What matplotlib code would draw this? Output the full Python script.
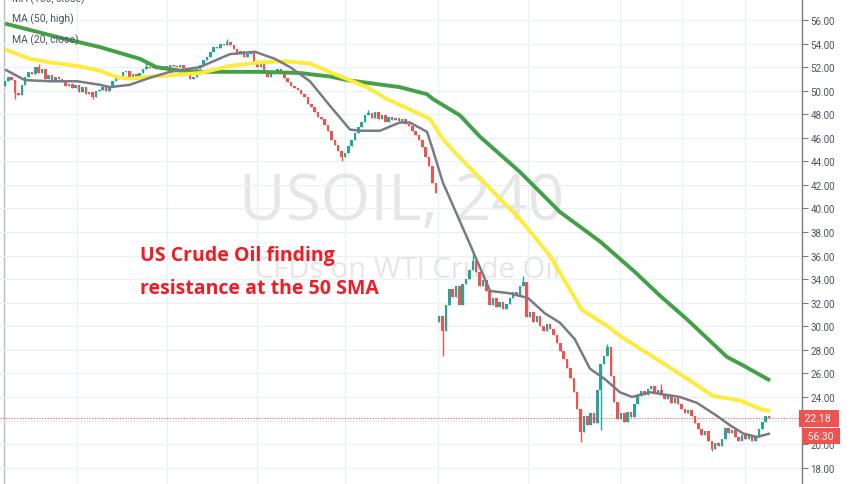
import numpy as np
import matplotlib.pyplot as plt
import matplotlib.transforms as mtransforms

plt.rcParams['font.family'] = ['Roboto', 'DejaVu Sans']

# ---- candle closes (240 min bars) ----
closes = [
    50.8, 51.2, 50.9, 49.8, 49.6, 50.5, 51.2,
    51.6, 51.4, 52.0, 51.5, 51.8,
    51.0, 51.3, 50.9, 51.2, 51.0,
    50.7, 50.4, 50.6, 50.2, 50.5,
    49.9, 50.3, 49.7, 49.9, 49.5, 50.0,
    50.1, 50.3, 50.0, 50.4,
    50.8, 51.2, 51.0, 51.6, 51.7,
    51.2, 51.4, 51.0, 51.5,
    51.8, 52.0, 51.9, 52.1, 51.8, 52.0, 52.1, 51.9, 52.2,
    52.1, 52.0, 52.2, 51.9,
    51.4, 51.0, 51.2,
    51.8, 52.2, 52.6, 52.9,
    53.3, 53.7, 53.6,
    54.0, 53.9, 54.1, 53.9,
    53.5, 53.1, 53.4, 52.9,
    53.1, 53.4,
    52.4, 52.0, 52.3,
    51.6, 51.2, 51.4,
    51.6, 51.8, 51.7,
    51.1, 50.7,
    50.4, 50.2, 50.1,
    49.7, 49.5,
    48.9, 48.6,
    48.2, 47.8, 47.6,
    47.1, 46.6, 45.8, 45.4,
    44.9, 44.4, 44.7,
    45.3, 45.8, 46.4,
    46.9, 47.3,
    47.9, 48.1, 47.7, 48.2,
    47.6, 47.9, 47.3, 47.8, 47.5, 47.7,
    47.4, 47.6, 47.2, 47.0,
    46.6, 46.2, 45.8,
    45.2, 44.4, 43.6,
    42.2, 41.3,
    30.9, 29.6,
    31.8, 33.2,
    32.5, 33.4, 31.8, 33.6,
    34.0, 34.8, 35.5, 34.6, 33.4, 33.9, 33.0,
    31.8, 32.4, 31.6, 32.1, 31.5, 31.9,
    32.4, 32.9, 32.6, 33.4, 33.8, 30.8,
    31.2, 30.4, 30.9, 30.0,
    29.6, 30.2, 29.8, 29.3,
    28.6, 27.9, 27.2, 26.5,
    25.6, 24.4,
    23.0, 21.0,
    22.4, 21.6, 22.6, 21.8,
    24.6, 26.8, 27.5,
    28.2,
    25.8, 23.6,
    22.1, 22.6, 21.9, 22.7, 22.3,
    23.4, 24.1, 24.5, 24.2, 24.7,
    24.9, 24.3, 24.6, 24.2,
    23.8, 24.2, 23.5, 23.9, 23.4,
    23.0, 22.6, 22.9, 22.4, 21.8,
    21.3, 20.8, 21.1,
    20.3, 19.6, 20.1, 19.8, 20.4,
    21.4, 20.9, 21.2,
    20.6, 20.3, 20.8, 20.4, 20.7, 20.3, 20.6,
    21.3, 21.9, 22.4, 22.18,
]
first_open = 50.4
open_override = {129: 30.4}          # weekend gap
high_marks = {10: 52.3, 42: 52.4, 66: 54.4, 108: 48.4, 139: 36.1, 154: 34.3, 179: 28.5, 195: 25.1}
low_marks = {3: 49.3, 26: 49.3, 100: 44.0, 130: 27.5, 171: 20.2, 177: 21.2, 210: 19.4}

# ---- moving averages (bar index, value) ----
ma100_idx = [0, 16.3, 28.2, 40.1, 44.9, 52, 58, 75.8, 87.6, 96.6, 101.6, 117.3, 125.4, 127.1,
             135.2, 141.1, 153, 164.9, 176.8, 187.2, 194.6, 202.6, 214.5, 219.8, 227.3]
ma100_val = [55.7, 54.5, 53.7, 52.7, 52.0, 51.7, 51.6, 51.6, 51.5, 51.2, 50.9, 50.3, 49.7, 49.3,
             47.9, 46.1, 43.1, 39.7, 37.2, 34.6, 32.6, 30.6, 27.4, 26.6, 25.4]
ma50_idx = [0, 7.4, 13.4, 21.4, 28.2, 32.7, 37.1, 43.1, 49, 57.9, 66.8, 75.8, 83.2, 90.6, 98,
            101.6, 107.5, 113.5, 126.3, 130.1, 135.2, 144.1, 153, 161.9, 171.4, 179.1, 182.7,
            188.7, 201.4, 210.3, 218.4, 224.3, 227.3]
ma50_val = [53.5, 52.7, 52.4, 52.1, 51.7, 51.2, 51.0, 51.2, 51.3, 51.5, 52.1, 52.4, 52.5, 52.3, 51.4,
            51.0, 50.3, 49.3, 47.6, 45.9, 44.3, 41.7, 39.1, 36.0, 31.4, 30.0, 29.2,
            28.1, 25.8, 24.1, 23.7, 23.0, 22.8]
ma20_idx = [0, 5.9, 13.4, 21.4, 28.2, 31.2, 37.1, 43.1, 49, 57.9, 66.8, 74.3, 80.2, 84.7, 90.6,
            96.6, 102.5, 105.5, 111.4, 117.3, 120.3, 125.4, 127.1, 130.1, 138.1, 141.1, 144.1,
            150, 155.4, 160.4, 164.9, 169.3, 173.8, 178.3, 182.7, 186.3, 191.6, 200.5, 205.6,
            211.5, 215.4, 219.3, 223.4, 227.3]
ma20_val = [51.8, 50.9, 50.8, 50.8, 50.5, 50.3, 50.5, 51.1, 51.6, 52.0, 53.1, 53.3, 52.7, 52.0, 50.8,
            48.7, 46.7, 46.6, 46.6, 47.3, 47.3, 46.5, 45.0, 42.2, 37.0, 35.0, 33.0,
            32.8, 32.4, 31.1, 30.3, 28.9, 26.4, 25.5, 24.4, 24.0, 24.4, 24.0, 23.5,
            22.4, 21.6, 20.9, 20.6, 20.9]

price_ticks = np.arange(18, 58, 2)
week_lines = [21.4, 48.1, 74.9, 101, 128.6, 155.4, 182.7, 201.1, 219.8]
last_price = 22.18

up_col = '#26a69a'
dn_col = '#ef5350'

# ---- layout: axes covers px 0..802 horizontally, full height ----
W, H = 852, 485
n = len(closes)
dx = 764 / (n - 1)          # pixels per bar
fig = plt.figure(figsize=(W / 100, H / 100), dpi=100)
ax = fig.add_axes([0, 0, 802 / W, 1])
ax.set_xlim(-5 / dx, 797 / dx)
ax.set_ylim(56 - 464 / 11.78, 56 + 21 / 11.78)

opens = [first_open] + closes[:-1]
for k, v in open_override.items():
    opens[k] = v

x = np.arange(n)
o = np.array(opens)
c = np.array(closes)
cols = [up_col if cc >= oo else dn_col for oo, cc in zip(o, c)]
hi = np.maximum(o, c)
lo = np.minimum(o, c)
for k, v in high_marks.items():
    hi[k] = v
for k, v in low_marks.items():
    lo[k] = v

ax.vlines(x, lo, hi, colors=cols, lw=1.0, zorder=2)
ax.bar(x, c - o, bottom=o, width=0.75, color=cols, lw=0, zorder=2)

line_kw = dict(solid_capstyle='butt', solid_joinstyle='round')
ax.plot(ma100_idx, ma100_val, color='#43a047', lw=2.8, zorder=3, **line_kw)
ax.plot(ma50_idx, ma50_val, color='#ffeb3b', lw=2.8, zorder=4, **line_kw)
ax.plot(ma20_idx, ma20_val, color='#787b86', lw=1.8, zorder=5, **line_kw)

# grid
ax.set_yticks(price_ticks)
ax.set_yticklabels([f'{t:.2f}' for t in price_ticks])
ax.grid(axis='y', color='#eaf0f7', lw=0.9, zorder=0)
for g in week_lines:
    ax.axvline(g, color='#eaf0f7', lw=0.9, zorder=0)
ax.axvline(-1 / dx, color='#b8bcc6', lw=1, zorder=1)

ax.set_xticks([])
ax.yaxis.tick_right()
ax.tick_params(axis='y', length=4, width=0.8, color='#787b86', labelsize=7,
               labelcolor='#4c525e', pad=2)
for s in ['top', 'left', 'bottom']:
    ax.spines[s].set_visible(False)
ax.spines['right'].set_color('#787b86')
ax.spines['right'].set_linewidth(1)
ax.text(1.0, 58, '  58.00', transform=mtransforms.blended_transform_factory(ax.transAxes, ax.transData),
        fontsize=7, color='#4c525e', va='center', ha='left', clip_on=False)

# watermark
ax.text(402 / 802, 1 - 203 / H, 'USOIL, 240', transform=ax.transAxes, ha='center', va='center',
        fontsize=46, color='#e6e6e6', family='Open Sans', zorder=0)
ax.text(408 / 802, 1 - 270 / H, 'CFDs on WTI Crude Oil', transform=ax.transAxes, ha='center',
        va='center', fontsize=21, color='#e6e6e6', family='Open Sans', zorder=0)

# annotation
ax.text(140 / 802, 1 - 256 / H, 'US Crude Oil finding', transform=ax.transAxes, ha='left',
        va='center', fontsize=14, color='#ee1c25', weight='bold', family='Open Sans', zorder=6)
ax.text(140 / 802, 1 - 289 / H, 'resistance at the 50 SMA', transform=ax.transAxes, ha='left',
        va='center', fontsize=14, color='#ee1c25', weight='bold', family='Open Sans', zorder=6)

# legend
for txt, py in [('MA (100, close)', -1), ('MA (50, high)', 19), ('MA (20, close)', 40)]:
    fig.text(12 / W, 1 - py / H, txt, fontsize=7.5, color='#4c525e', va='center', ha='left')

# last price line and labels
ax.axhline(last_price, color=dn_col, lw=0.8, ls=(0, (1, 1.5)), zorder=1)
bt = mtransforms.blended_transform_factory(ax.transAxes, ax.transData)
ax.text(1.0, last_price, ' 22.18  ', transform=bt, ha='left', va='center', fontsize=7.5,
        color='white', clip_on=False, zorder=10,
        bbox=dict(boxstyle='square,pad=0.3', fc=dn_col, ec='none'))
ax.annotate(' 56:30 ', xy=(1.0, last_price), xycoords=bt, xytext=(2.5, -12.5),
            textcoords='offset points', ha='left', va='center', fontsize=7.5, color='white',
            annotation_clip=False, zorder=10,
            bbox=dict(boxstyle='square,pad=0.3', fc=dn_col, ec='none'))

fig.savefig('out.png', dpi=100)
